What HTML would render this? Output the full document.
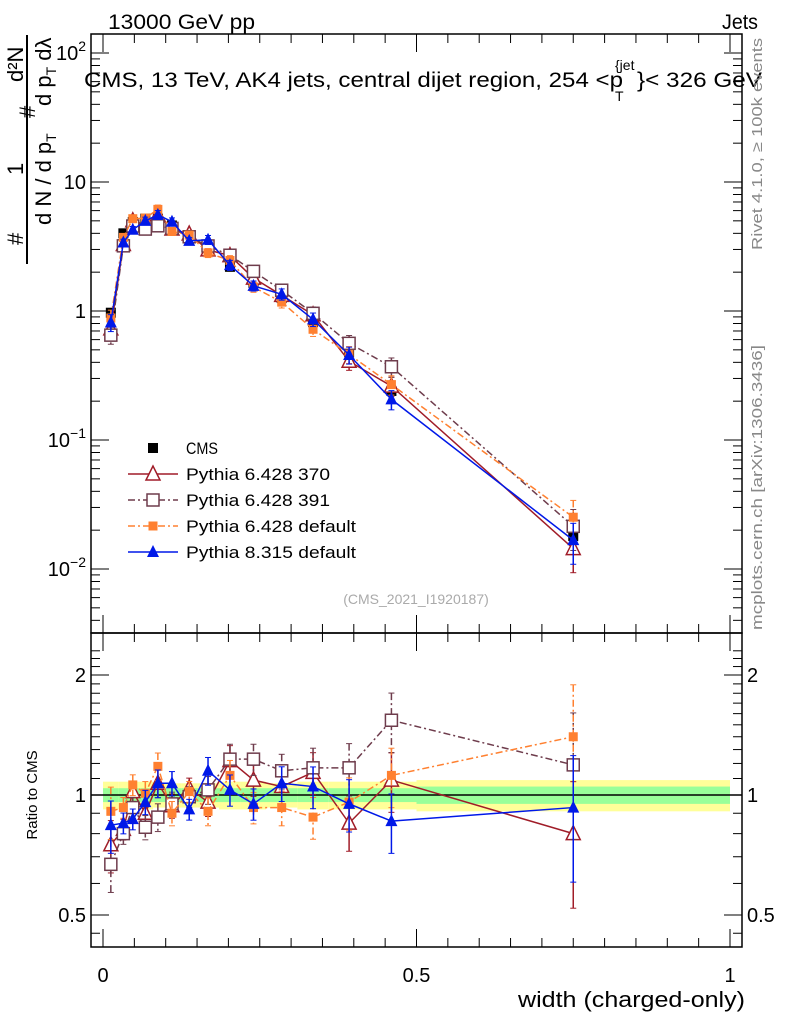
<!DOCTYPE html>
<html><head><meta charset="utf-8"><style>
body{margin:0;background:#fff}
svg text{font-family:"Liberation Sans",sans-serif}
</style></head><body>
<svg id="c" width="786" height="1024" xmlns="http://www.w3.org/2000/svg">
<g id="bands"></g>
<g id="axes"></g>
<g id="series"></g>
<text x="108" y="29" font-size="21" textLength="147" lengthAdjust="spacingAndGlyphs">13000 GeV pp</text>
<text x="722" y="29" font-size="21" textLength="36" lengthAdjust="spacingAndGlyphs">Jets</text>
<g>
<text x="84" y="87" font-size="21" textLength="539" lengthAdjust="spacingAndGlyphs">CMS, 13 TeV, AK4 jets, central dijet region, 254 &lt;p</text>
<text x="615" y="70" font-size="14">{jet</text>
<text x="615" y="101" font-size="14">T</text>
<text x="637" y="87" font-size="21" textLength="125" lengthAdjust="spacingAndGlyphs">}&lt; 326 GeV</text>
</g>
<text transform="translate(762,250) rotate(-90)" font-size="15" fill="#888" textLength="212" lengthAdjust="spacingAndGlyphs">Rivet 4.1.0, ≥ 100k events</text>
<text transform="translate(762,630) rotate(-90)" font-size="15" fill="#888" textLength="285" lengthAdjust="spacingAndGlyphs">mcplots.cern.ch [arXiv:1306.3436]</text>
<text x="416" y="604" font-size="14" fill="#aaa" text-anchor="middle">(CMS_2021_I1920187)</text>
<g font-size="22">
<line x1="27" y1="264" x2="27" y2="35" stroke="#000" stroke-width="2"/>
<text transform="translate(23,245) rotate(-90)">#</text>
<text transform="translate(23,175) rotate(-90)">1</text>
<text transform="translate(51,225) rotate(-90)">d N / d p<tspan font-size="14" dy="5">T</tspan></text>
<text transform="translate(35,118) rotate(-90)">#</text>
<text transform="translate(23,82) rotate(-90)">d²N</text>
<text transform="translate(51,106) rotate(-90)">d p<tspan font-size="14" dy="5">T</tspan><tspan dy="-5"> dλ</tspan></text>
</g>
<text transform="translate(37,795) rotate(-90)" font-size="15" text-anchor="middle">Ratio to CMS</text>
<text x="518" y="1007" font-size="22" textLength="227" lengthAdjust="spacingAndGlyphs">width (charged-only)</text>
<g id="legend"></g>
</svg>
<script>
const xCenters=[0.0125,0.0325,0.0475,0.0675,0.0875,0.11,0.1375,0.1675,0.2025,0.24,0.285,0.335,0.3925,0.46,0.75];
const binEdges=[0,0.025,0.04,0.055,0.08,0.095,0.125,0.15,0.185,0.22,0.26,0.31,0.36,0.425,0.5,1];
const cmsValues=[0.97,4.0,4.9,5.2,5.2,4.6,3.8,3.1,2.2,1.65,1.26,0.82,0.48,0.24,0.018];
const cmsInner=[0.04,0.04,0.04,0.04,0.04,0.04,0.04,0.04,0.04,0.04,0.04,0.04,0.04,0.04,0.05];
const cmsOuter=[0.08,0.08,0.08,0.08,0.07,0.07,0.07,0.07,0.08,0.08,0.07,0.08,0.08,0.08,0.09];
const ratio370=[0.75,0.82,1.02,0.90,1.07,0.94,1.04,0.96,1.22,1.09,1.05,1.14,0.85,1.09,0.80];
const ratio391=[0.67,0.80,0.93,0.83,0.88,0.95,0.99,1.03,1.23,1.23,1.15,1.17,1.17,1.54,1.19];
const ratioDef6=[0.91,0.93,1.06,1.01,1.18,0.90,1.02,0.91,1.12,0.93,0.93,0.88,0.96,1.12,1.40];
const ratio8=[0.84,0.85,0.87,0.96,1.07,1.07,0.92,1.15,1.03,0.95,1.07,1.05,0.95,0.86,0.93];
const relErr=[0.15,0.06,0.06,0.07,0.08,0.07,0.06,0.08,0.09,0.09,0.1,0.12,0.15,0.17,0.35];
const xTicks=[0,0.5,1];
const xTickLabels=["0","0.5","1"];
const yTicksMain=[100,10,1,0.1,0.01];
const yTickLabelsMain=["10^2","10","1","10^-1","10^-2"];
const rTicks=[2,1,0.5];
const rTickLabels=["2","1","0.5"];
const X0=91,X1=742,T=34,MID=633,B=947;
const xs=v=>103+627*v;
const ym=v=>311-129*Math.log10(v);
const yr=v=>795-120*Math.log2(v);
const NS="http://www.w3.org/2000/svg";
function mk(tag,attrs,parent){const e=document.createElementNS(NS,tag);for(const k in attrs)e.setAttribute(k,attrs[k]);parent.appendChild(e);return e;}
const axes=document.getElementById('axes'),series=document.getElementById('series'),bands=document.getElementById('bands'),legend=document.getElementById('legend');
for(let i=0;i<xCenters.length;i++){
 const x1=xs(binEdges[i]),x2=xs(binEdges[i+1]);
 const o=mk('rect',{x:x1,y:yr(1+cmsOuter[i]),width:x2-x1,height:yr(1-cmsOuter[i])-yr(1+cmsOuter[i]),fill:'#ffff99'},bands);
 
 
 const n=mk('rect',{x:x1,y:yr(1+cmsInner[i]),width:x2-x1,height:yr(1-cmsInner[i])-yr(1+cmsInner[i]),fill:'#99ff99'},bands);
 
 
}
for(const [t,b] of [[T,MID],[MID,B]]){const r=mk('rect',{x:X0,y:t,width:X1-X0,height:b-t,fill:'none',stroke:'#000','stroke-width':1.5},axes);}
mk('line',{x1:X0,x2:X1,y1:yr(1),y2:yr(1),stroke:'#000','stroke-width':1.5},axes);
for(let k=0;k<=20;k++){const v=k*0.05;const x=xs(v);const big=k%10==0;const L=big?18:9;
 for(const [y,d] of [[T,1],[MID,-1],[MID,1],[B,-1]]) mk('line',{x1:x,x2:x,y1:y,y2:y+d*L,stroke:'#000'},axes);}
xTicks.forEach((v,i)=>{const t=mk('text',{x:xs(v),y:982,'font-size':20,'text-anchor':'middle'},axes);t.textContent=xTickLabels[i];});
for(let e=-3;e<=2;e++)for(let m=1;m<10;m++){const v=m*Math.pow(10,e);const y=ym(v);if(y<T||y>MID)continue;const L=m==1?18:9;
 mk('line',{x1:X0,x2:X0+L,y1:y,y2:y,stroke:'#000'},axes);mk('line',{x1:X1,x2:X1-L,y1:y,y2:y,stroke:'#000'},axes);}
yTicksMain.forEach((v,i)=>{const s=yTickLabelsMain[i];const t=mk('text',{x:86,y:ym(v)+7,'font-size':20,'text-anchor':'end'},axes);
 if(s.indexOf('^')>0){const p=s.split('^');t.textContent=p[0];const sp=mk('tspan',{dy:-9,'font-size':14},t);sp.textContent=p[1].replace('-','−');}else t.textContent=s;
 });
for(const v of [0.45,0.5,0.6,0.7,0.8,0.9,1,1.1,1.2,1.3,1.4,1.5,1.6,1.7,1.8,1.9,2,2.1,2.2,2.3]){const y=yr(v);if(y<MID||y>B)continue;const L=(v==0.5||v==1||v==2)?18:9;
 mk('line',{x1:X0,x2:X0+L,y1:y,y2:y,stroke:'#000'},axes);mk('line',{x1:X1,x2:X1-L,y1:y,y2:y,stroke:'#000'},axes);}
rTicks.forEach((v,i)=>{for(const [x,a] of [[86,'end'],[747,'start']]){const t=mk('text',{x:x,y:yr(v)+7,'font-size':20,'text-anchor':a},axes);t.textContent=rTickLabels[i];}});
function marker(g,type,x,y,c){
 if(type=='sq') mk('rect',{x:x-5,y:y-5,width:10,height:10,fill:'#000'},g);
 else if(type=='osq') mk('rect',{x:x-6,y:y-6,width:12,height:12,fill:'#fff',stroke:c,'stroke-width':1.5},g);
 else if(type=='fsq') mk('rect',{x:x-4.5,y:y-4.5,width:9,height:9,fill:c},g);
 else if(type=='otri') mk('polygon',{points:`${x},${y-8} ${x-7},${y+6} ${x+7},${y+6}`,fill:'#fff',stroke:c,'stroke-width':1.5},g);
 else mk('polygon',{points:`${x},${y-7} ${x-6},${y+5} ${x+6},${y+5}`,fill:c},g);
}
const cfg=[
 {name:'Pythia 6.428 370',r:ratio370,c:'#a01c28',m:'otri',d:'',w:144},
 {name:'Pythia 6.428 391',r:ratio391,c:'#6e3c4c',m:'osq',d:'7,3,2,3',w:144},
 {name:'Pythia 6.428 default',r:ratioDef6,c:'#ff8030',m:'fsq',d:'7,3,2,3',w:170},
 {name:'Pythia 8.315 default',r:ratio8,c:'#0018e8',m:'ftri',d:'',w:170}];
function drawSeries(vals,err,yf,c,m,d,name){
 const g=mk('g',{},series);
 const pts=vals.map((v,i)=>xs(xCenters[i])+','+yf(v)).join(' ');
 mk('polyline',{points:pts,fill:'none',stroke:c,'stroke-width':1.5,'stroke-dasharray':d},g);
 vals.forEach((v,i)=>{const x=xs(xCenters[i]);const y1=yf(v*(1+err[i])),y2=yf(Math.max(v*(1-err[i]),1e-6));
  mk('line',{x1:x,x2:x,y1:y1,y2:y2,stroke:c,'stroke-width':1.5,'stroke-dasharray':d},g);
  mk('line',{x1:x-3,x2:x+3,y1:y1,y2:y1,stroke:c},g);mk('line',{x1:x-3,x2:x+3,y1:y2,y2:y2,stroke:c},g);
  marker(g,m,x,yf(v),c);});
}
(function(){const g=mk('g',{},series);
 cmsValues.forEach((v,i)=>{const x=xs(xCenters[i]);mk('line',{x1:x,x2:x,y1:ym(v*(1+cmsOuter[i])),y2:ym(v*(1-cmsOuter[i])),stroke:'#000'},g);marker(g,'sq',x,ym(v),'#000');});})();
cfg.forEach(s=>{
 drawSeries(cmsValues.map((v,i)=>v*s.r[i]),relErr,ym,s.c,s.m,s.d,'main-'+s.name.replace(/[ .]/g,'-').toLowerCase());
 drawSeries(s.r,relErr,yr,s.c,s.m,s.d,'ratio-'+s.name.replace(/[ .]/g,'-').toLowerCase());
});
const lg=[{name:'CMS',m:'sq',c:'#000',d:null,w:32}].concat(cfg);
lg.forEach((s,i)=>{const y=448+i*26;const g=mk('g',{},legend);
 if(s.d!==null&&s.d!==undefined) mk('line',{x1:128,x2:178,y1:y,y2:y,stroke:s.c,'stroke-width':1.5,'stroke-dasharray':s.d},g);
 marker(g,s.m,153,y,s.c);
 const t=mk('text',{x:186,y:y+6,'font-size':17,textLength:s.w,lengthAdjust:'spacingAndGlyphs'},g);t.textContent=s.name;});
</script>
</body></html>
